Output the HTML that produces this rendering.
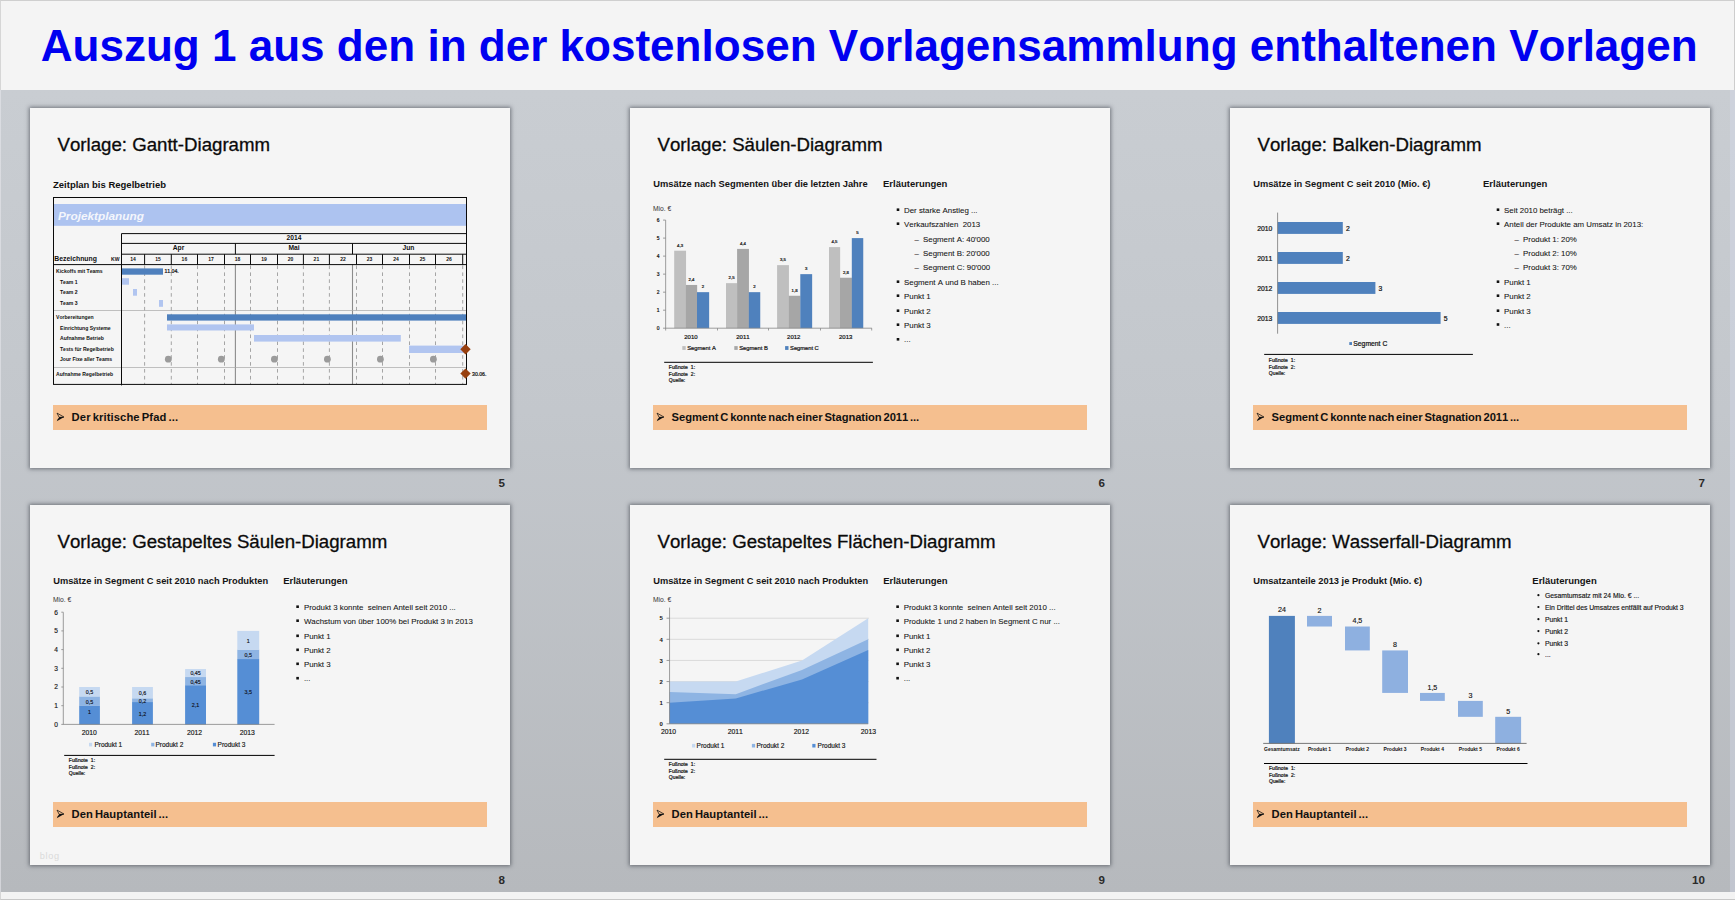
<!DOCTYPE html>
<html><head><meta charset="utf-8"><title>Vorlagen</title>
<style>
html,body{margin:0;padding:0}
body{width:1735px;height:900px;overflow:hidden;position:relative;background:#f4f4f4;font-family:"Liberation Sans",sans-serif}
#hdr{position:absolute;left:0;top:0;width:1735px;height:90px;background:#f4f4f4;box-sizing:border-box;border-top:1px solid #cfcfcf;border-left:1px solid #d6d6d6;border-right:1px solid #cdcdcd}
#hdr div{position:absolute;left:39.7px;top:20.3px;font-size:44.05px;font-kerning:none;font-weight:bold;color:#0000f0;white-space:nowrap;line-height:50px;letter-spacing:0}
#bg{position:absolute;left:0;top:90px;width:1735px;height:803px;background:linear-gradient(to bottom,#c9cdd2 0%,#c3c7cc 40%,#b6b9bd 100%)}
#bot{position:absolute;left:0;top:892px;width:1735px;height:8px;background:#f3f3f3;box-sizing:border-box;border-bottom:1px solid #c8c8c8;border-left:1px solid #d6d6d6}
.sl{position:absolute;width:480px;height:360px;background:#f5f5f5;box-shadow:0 0 4px 1px rgba(40,45,55,.55)}
svg{position:absolute;left:0;top:0}
svg text{font-family:"Liberation Sans",sans-serif;font-kerning:none}
</style></head><body>
<div id="hdr"><div>Auszug 1 aus den in der kostenlosen Vorlagensammlung enthaltenen Vorlagen</div></div>
<div id="bg"><div style="position:absolute;right:0;top:0;width:5px;height:100%;background:rgba(215,222,240,.35)"></div><div style="position:absolute;left:0;top:0;width:1px;height:100%;background:rgba(230,230,235,.6)"></div></div><div id="bot"></div>
<div class="sl" style="left:30px;top:108px"></div><div class="sl" style="left:630px;top:108px"></div><div class="sl" style="left:1230px;top:108px"></div><div class="sl" style="left:30px;top:505px"></div><div class="sl" style="left:630px;top:505px"></div><div class="sl" style="left:1230px;top:505px"></div>
<svg width="1735" height="900" viewBox="0 0 1735 900">
<text x="57.50" y="151.30" font-size="18.67" font-weight="normal" fill="#0a0a0a" text-anchor="start"  stroke="#0a0a0a" stroke-width="0.3">Vorlage: Gantt-Diagramm</text>
<rect x="53.00" y="405.00" width="434.00" height="25.00" fill="#f5bf8f" />
<path d="M64.10 417.00 L56.80 421.30 L57.50 419.60 L59.50 416.90 Z" fill="#111"/>
<path d="M57.00 413.10 L64.00 417.05 L59.20 417.40 Z" fill="none" stroke="#111" stroke-width="0.75" stroke-linejoin="miter"/>
<text x="71.60" y="421.10" font-size="11.2" font-weight="bold" fill="#111" text-anchor="start" word-spacing="-1.2" textLength="106.40" lengthAdjust="spacing">Der kritische Pfad ...</text>
<text x="505.00" y="486.60" font-size="11.6" font-weight="bold" fill="#2a2a2a" text-anchor="end" >5</text>
<text x="53.00" y="188.20" font-size="9.5" font-weight="bold" fill="#111" text-anchor="start" >Zeitplan bis Regelbetrieb</text>
<rect x="54.00" y="204.00" width="412.50" height="21.80" fill="#adc3f0" />
<text x="58.00" y="219.80" font-size="11.8" font-weight="bold" fill="#f4f6fc" text-anchor="start" font-style="italic">Projektplanung</text>
<line x1="144.60" y1="264.60" x2="144.60" y2="384.40" stroke="#9c9c9c" stroke-width="0.9" stroke-dasharray="3.6 3.3" stroke-dashoffset="-0.9"/>
<line x1="171.30" y1="264.60" x2="171.30" y2="384.40" stroke="#9c9c9c" stroke-width="0.9" stroke-dasharray="3.6 3.3" stroke-dashoffset="-0.9"/>
<line x1="197.50" y1="264.60" x2="197.50" y2="384.40" stroke="#9c9c9c" stroke-width="0.9" stroke-dasharray="3.6 3.3" stroke-dashoffset="-0.9"/>
<line x1="224.50" y1="264.60" x2="224.50" y2="384.40" stroke="#9c9c9c" stroke-width="0.9" stroke-dasharray="3.6 3.3" stroke-dashoffset="-0.9"/>
<line x1="250.50" y1="264.60" x2="250.50" y2="384.40" stroke="#9c9c9c" stroke-width="0.9" stroke-dasharray="3.6 3.3" stroke-dashoffset="-0.9"/>
<line x1="277.50" y1="264.60" x2="277.50" y2="384.40" stroke="#9c9c9c" stroke-width="0.9" stroke-dasharray="3.6 3.3" stroke-dashoffset="-0.9"/>
<line x1="303.40" y1="264.60" x2="303.40" y2="384.40" stroke="#9c9c9c" stroke-width="0.9" stroke-dasharray="3.6 3.3" stroke-dashoffset="-0.9"/>
<line x1="329.40" y1="264.60" x2="329.40" y2="384.40" stroke="#9c9c9c" stroke-width="0.9" stroke-dasharray="3.6 3.3" stroke-dashoffset="-0.9"/>
<line x1="356.50" y1="264.60" x2="356.50" y2="384.40" stroke="#9c9c9c" stroke-width="0.9" stroke-dasharray="3.6 3.3" stroke-dashoffset="-0.9"/>
<line x1="382.50" y1="264.60" x2="382.50" y2="384.40" stroke="#9c9c9c" stroke-width="0.9" stroke-dasharray="3.6 3.3" stroke-dashoffset="-0.9"/>
<line x1="409.50" y1="264.60" x2="409.50" y2="384.40" stroke="#9c9c9c" stroke-width="0.9" stroke-dasharray="3.6 3.3" stroke-dashoffset="-0.9"/>
<line x1="435.50" y1="264.60" x2="435.50" y2="384.40" stroke="#9c9c9c" stroke-width="0.9" stroke-dasharray="3.6 3.3" stroke-dashoffset="-0.9"/>
<line x1="462.70" y1="264.60" x2="462.70" y2="384.40" stroke="#9c9c9c" stroke-width="0.9" stroke-dasharray="3.6 3.3" stroke-dashoffset="-0.9"/>
<line x1="235.40" y1="264.60" x2="235.40" y2="384.40" stroke="#8c8c8c" stroke-width="1.1" />
<line x1="352.50" y1="264.60" x2="352.50" y2="384.40" stroke="#8c8c8c" stroke-width="1.1" />
<line x1="53.50" y1="310.50" x2="466.50" y2="310.50" stroke="#a8a8a8" stroke-width="0.7" />
<line x1="53.50" y1="367.50" x2="466.50" y2="367.50" stroke="#a8a8a8" stroke-width="0.7" />
<rect x="121.80" y="268.40" width="41.20" height="6.30" fill="#4f80bd" />
<rect x="121.80" y="278.20" width="7.20" height="6.50" fill="#b1c5f0" />
<rect x="133.00" y="289.00" width="4.00" height="6.70" fill="#b1c5f0" />
<rect x="159.00" y="300.00" width="4.00" height="6.80" fill="#b1c5f0" />
<rect x="167.00" y="314.30" width="299.30" height="6.30" fill="#4f80bd" />
<rect x="167.00" y="324.40" width="87.00" height="6.10" fill="#b1c5f0" />
<rect x="254.00" y="335.00" width="146.80" height="6.60" fill="#b1c5f0" />
<rect x="409.00" y="345.60" width="55.50" height="7.40" fill="#b1c5f0" />
<circle cx="168.30" cy="359.20" r="3.4" fill="#9b9b9b"/>
<circle cx="221.30" cy="359.20" r="3.4" fill="#9b9b9b"/>
<circle cx="274.40" cy="359.20" r="3.4" fill="#9b9b9b"/>
<circle cx="327.40" cy="359.20" r="3.4" fill="#9b9b9b"/>
<circle cx="380.40" cy="359.20" r="3.4" fill="#9b9b9b"/>
<circle cx="433.40" cy="359.20" r="3.4" fill="#9b9b9b"/>
<line x1="121.50" y1="233.60" x2="466.50" y2="233.60" stroke="#0a0a0a" stroke-width="1" />
<line x1="121.50" y1="243.40" x2="466.50" y2="243.40" stroke="#0a0a0a" stroke-width="1" />
<line x1="121.50" y1="254.20" x2="466.50" y2="254.20" stroke="#0a0a0a" stroke-width="1" />
<line x1="53.50" y1="264.60" x2="466.50" y2="264.60" stroke="#0a0a0a" stroke-width="1" />
<line x1="121.50" y1="233.60" x2="121.50" y2="385.40" stroke="#0a0a0a" stroke-width="1" />
<line x1="235.40" y1="243.40" x2="235.40" y2="254.20" stroke="#0a0a0a" stroke-width="1" />
<line x1="352.50" y1="243.40" x2="352.50" y2="254.20" stroke="#0a0a0a" stroke-width="1" />
<line x1="144.60" y1="254.20" x2="144.60" y2="264.60" stroke="#0a0a0a" stroke-width="1" />
<line x1="171.30" y1="254.20" x2="171.30" y2="264.60" stroke="#0a0a0a" stroke-width="1" />
<line x1="197.50" y1="254.20" x2="197.50" y2="264.60" stroke="#0a0a0a" stroke-width="1" />
<line x1="224.50" y1="254.20" x2="224.50" y2="264.60" stroke="#0a0a0a" stroke-width="1" />
<line x1="250.50" y1="254.20" x2="250.50" y2="264.60" stroke="#0a0a0a" stroke-width="1" />
<line x1="277.50" y1="254.20" x2="277.50" y2="264.60" stroke="#0a0a0a" stroke-width="1" />
<line x1="303.40" y1="254.20" x2="303.40" y2="264.60" stroke="#0a0a0a" stroke-width="1" />
<line x1="329.40" y1="254.20" x2="329.40" y2="264.60" stroke="#0a0a0a" stroke-width="1" />
<line x1="356.50" y1="254.20" x2="356.50" y2="264.60" stroke="#0a0a0a" stroke-width="1" />
<line x1="382.50" y1="254.20" x2="382.50" y2="264.60" stroke="#0a0a0a" stroke-width="1" />
<line x1="409.50" y1="254.20" x2="409.50" y2="264.60" stroke="#0a0a0a" stroke-width="1" />
<line x1="435.50" y1="254.20" x2="435.50" y2="264.60" stroke="#0a0a0a" stroke-width="1" />
<line x1="462.70" y1="254.20" x2="462.70" y2="264.60" stroke="#0a0a0a" stroke-width="1" />
<rect x="53.50" y="197.50" width="413.00" height="186.90" fill="none" stroke="#0a0a0a" stroke-width="1"/>
<path d="M460.30 349.20 L465.50 344.00 L470.70 349.20 L465.50 354.40 Z" fill="#98400f"/>
<path d="M460.30 373.60 L465.50 368.40 L470.70 373.60 L465.50 378.80 Z" fill="#98400f"/>
<text x="294.00" y="240.10" font-size="6.7" font-weight="bold" fill="#111" text-anchor="middle" >2014</text>
<text x="178.50" y="250.10" font-size="6.7" font-weight="bold" fill="#111" text-anchor="middle" >Apr</text>
<text x="294.00" y="250.10" font-size="6.7" font-weight="bold" fill="#111" text-anchor="middle" >Mai</text>
<text x="408.50" y="250.10" font-size="6.7" font-weight="bold" fill="#111" text-anchor="middle" >Jun</text>
<text x="54.30" y="260.80" font-size="6.85" font-weight="bold" fill="#111" text-anchor="start" >Bezeichnung</text>
<text x="111.00" y="261.30" font-size="5.1" font-weight="bold" fill="#111" text-anchor="start" >KW</text>
<text x="133.05" y="261.20" font-size="5.0" font-weight="bold" fill="#111" text-anchor="middle" >14</text>
<text x="157.95" y="261.20" font-size="5.0" font-weight="bold" fill="#111" text-anchor="middle" >15</text>
<text x="184.40" y="261.20" font-size="5.0" font-weight="bold" fill="#111" text-anchor="middle" >16</text>
<text x="211.00" y="261.20" font-size="5.0" font-weight="bold" fill="#111" text-anchor="middle" >17</text>
<text x="237.50" y="261.20" font-size="5.0" font-weight="bold" fill="#111" text-anchor="middle" >18</text>
<text x="264.00" y="261.20" font-size="5.0" font-weight="bold" fill="#111" text-anchor="middle" >19</text>
<text x="290.45" y="261.20" font-size="5.0" font-weight="bold" fill="#111" text-anchor="middle" >20</text>
<text x="316.40" y="261.20" font-size="5.0" font-weight="bold" fill="#111" text-anchor="middle" >21</text>
<text x="342.95" y="261.20" font-size="5.0" font-weight="bold" fill="#111" text-anchor="middle" >22</text>
<text x="369.50" y="261.20" font-size="5.0" font-weight="bold" fill="#111" text-anchor="middle" >23</text>
<text x="396.00" y="261.20" font-size="5.0" font-weight="bold" fill="#111" text-anchor="middle" >24</text>
<text x="422.50" y="261.20" font-size="5.0" font-weight="bold" fill="#111" text-anchor="middle" >25</text>
<text x="449.10" y="261.20" font-size="5.0" font-weight="bold" fill="#111" text-anchor="middle" >26</text>
<text x="56.00" y="272.80" font-size="5.1" font-weight="bold" fill="#111" text-anchor="start" >Kickoffs mit Teams</text>
<text x="60.00" y="283.70" font-size="5.1" font-weight="bold" fill="#111" text-anchor="start" >Team 1</text>
<text x="60.00" y="293.70" font-size="5.1" font-weight="bold" fill="#111" text-anchor="start" >Team 2</text>
<text x="60.00" y="304.70" font-size="5.1" font-weight="bold" fill="#111" text-anchor="start" >Team 3</text>
<text x="56.00" y="319.10" font-size="5.1" font-weight="bold" fill="#111" text-anchor="start" >Vorbereitungen</text>
<text x="60.00" y="329.70" font-size="5.1" font-weight="bold" fill="#111" text-anchor="start" >Einrichtung Systeme</text>
<text x="60.00" y="339.80" font-size="5.1" font-weight="bold" fill="#111" text-anchor="start" >Aufnahme Betrieb</text>
<text x="60.00" y="350.80" font-size="5.1" font-weight="bold" fill="#111" text-anchor="start" >Tests für Regelbetrieb</text>
<text x="60.00" y="360.90" font-size="5.1" font-weight="bold" fill="#111" text-anchor="start" >Jour Fixe aller Teams</text>
<text x="56.00" y="375.60" font-size="5.1" font-weight="bold" fill="#111" text-anchor="start" >Aufnahme Regelbetrieb</text>
<text x="164.40" y="273.20" font-size="5.2" font-weight="normal" fill="#111" text-anchor="start"  stroke="#111" stroke-width="0.22">11.04.</text>
<text x="472.00" y="376.00" font-size="5.2" font-weight="normal" fill="#111" text-anchor="start"  stroke="#111" stroke-width="0.22">30.06.</text>
<text x="657.50" y="151.30" font-size="18.67" font-weight="normal" fill="#0a0a0a" text-anchor="start"  stroke="#0a0a0a" stroke-width="0.3">Vorlage: Säulen-Diagramm</text>
<rect x="653.00" y="405.00" width="434.00" height="25.00" fill="#f5bf8f" />
<path d="M664.10 417.00 L656.80 421.30 L657.50 419.60 L659.50 416.90 Z" fill="#111"/>
<path d="M657.00 413.10 L664.00 417.05 L659.20 417.40 Z" fill="none" stroke="#111" stroke-width="0.75" stroke-linejoin="miter"/>
<text x="671.60" y="421.10" font-size="11.2" font-weight="bold" fill="#111" text-anchor="start" word-spacing="-1.2" textLength="247.60" lengthAdjust="spacing">Segment C konnte nach einer Stagnation 2011 ...</text>
<text x="1105.00" y="486.60" font-size="11.6" font-weight="bold" fill="#2a2a2a" text-anchor="end" >6</text>
<text x="653.20" y="187.00" font-size="9.35" font-weight="bold" fill="#141414" text-anchor="start" >Umsätze nach Segmenten über die letzten Jahre</text>
<text x="883.00" y="187.00" font-size="9.5" font-weight="bold" fill="#141414" text-anchor="start" >Erläuterungen</text>
<text x="653.00" y="210.90" font-size="6.7" font-weight="normal" fill="#333" text-anchor="start" >Mio. €</text>
<rect x="674.20" y="250.71" width="11.85" height="77.49" fill="#bfbfbf" />
<text x="680.05" y="246.91" font-size="4.3" font-weight="normal" fill="#141414" text-anchor="middle"  stroke="#141414" stroke-width="0.22">4,3</text>
<rect x="685.90" y="284.95" width="11.25" height="43.25" fill="#a6a6a6" />
<text x="691.45" y="281.15" font-size="4.3" font-weight="normal" fill="#141414" text-anchor="middle"  stroke="#141414" stroke-width="0.22">2,4</text>
<rect x="697.00" y="292.16" width="12.15" height="36.04" fill="#4f81bd" />
<text x="703.00" y="288.36" font-size="4.3" font-weight="normal" fill="#141414" text-anchor="middle"  stroke="#141414" stroke-width="0.22">2</text>
<rect x="726.00" y="283.15" width="11.25" height="45.05" fill="#bfbfbf" />
<text x="731.55" y="279.35" font-size="4.3" font-weight="normal" fill="#141414" text-anchor="middle"  stroke="#141414" stroke-width="0.22">2,5</text>
<rect x="737.10" y="248.91" width="11.85" height="79.29" fill="#a6a6a6" />
<text x="742.95" y="245.11" font-size="4.3" font-weight="normal" fill="#141414" text-anchor="middle"  stroke="#141414" stroke-width="0.22">4,4</text>
<rect x="748.80" y="292.16" width="11.45" height="36.04" fill="#4f81bd" />
<text x="754.45" y="288.36" font-size="4.3" font-weight="normal" fill="#141414" text-anchor="middle"  stroke="#141414" stroke-width="0.22">2</text>
<rect x="777.10" y="265.13" width="11.85" height="63.07" fill="#bfbfbf" />
<text x="782.95" y="261.33" font-size="4.3" font-weight="normal" fill="#141414" text-anchor="middle"  stroke="#141414" stroke-width="0.22">3,5</text>
<rect x="788.80" y="295.76" width="11.65" height="32.44" fill="#a6a6a6" />
<text x="794.55" y="291.96" font-size="4.3" font-weight="normal" fill="#141414" text-anchor="middle"  stroke="#141414" stroke-width="0.22">1,8</text>
<rect x="800.30" y="274.14" width="11.85" height="54.06" fill="#4f81bd" />
<text x="806.15" y="270.34" font-size="4.3" font-weight="normal" fill="#141414" text-anchor="middle"  stroke="#141414" stroke-width="0.22">3</text>
<rect x="829.00" y="247.11" width="11.15" height="81.09" fill="#bfbfbf" />
<text x="834.50" y="243.31" font-size="4.3" font-weight="normal" fill="#141414" text-anchor="middle"  stroke="#141414" stroke-width="0.22">4,5</text>
<rect x="840.00" y="277.74" width="11.95" height="50.46" fill="#a6a6a6" />
<text x="845.90" y="273.94" font-size="4.3" font-weight="normal" fill="#141414" text-anchor="middle"  stroke="#141414" stroke-width="0.22">2,8</text>
<rect x="851.80" y="238.10" width="11.45" height="90.10" fill="#4f81bd" />
<text x="857.45" y="234.30" font-size="4.3" font-weight="normal" fill="#141414" text-anchor="middle"  stroke="#141414" stroke-width="0.22">5</text>
<line x1="665.65" y1="220.10" x2="665.65" y2="330.50" stroke="#858585" stroke-width="0.8" />
<line x1="663.05" y1="328.20" x2="871.90" y2="328.20" stroke="#858585" stroke-width="0.8" />
<text x="658.00" y="329.95" font-size="4.9" font-weight="normal" fill="#141414" text-anchor="middle"  stroke="#141414" stroke-width="0.22">0</text>
<line x1="663.05" y1="310.18" x2="665.65" y2="310.18" stroke="#858585" stroke-width="0.8" />
<text x="658.00" y="311.93" font-size="4.9" font-weight="normal" fill="#141414" text-anchor="middle"  stroke="#141414" stroke-width="0.22">1</text>
<line x1="663.05" y1="292.16" x2="665.65" y2="292.16" stroke="#858585" stroke-width="0.8" />
<text x="658.00" y="293.91" font-size="4.9" font-weight="normal" fill="#141414" text-anchor="middle"  stroke="#141414" stroke-width="0.22">2</text>
<line x1="663.05" y1="274.14" x2="665.65" y2="274.14" stroke="#858585" stroke-width="0.8" />
<text x="658.00" y="275.89" font-size="4.9" font-weight="normal" fill="#141414" text-anchor="middle"  stroke="#141414" stroke-width="0.22">3</text>
<line x1="663.05" y1="256.12" x2="665.65" y2="256.12" stroke="#858585" stroke-width="0.8" />
<text x="658.00" y="257.87" font-size="4.9" font-weight="normal" fill="#141414" text-anchor="middle"  stroke="#141414" stroke-width="0.22">4</text>
<line x1="663.05" y1="238.10" x2="665.65" y2="238.10" stroke="#858585" stroke-width="0.8" />
<text x="658.00" y="239.85" font-size="4.9" font-weight="normal" fill="#141414" text-anchor="middle"  stroke="#141414" stroke-width="0.22">5</text>
<line x1="663.05" y1="220.08" x2="665.65" y2="220.08" stroke="#858585" stroke-width="0.8" />
<text x="658.00" y="221.83" font-size="4.9" font-weight="normal" fill="#141414" text-anchor="middle"  stroke="#141414" stroke-width="0.22">6</text>
<line x1="717.50" y1="328.20" x2="717.50" y2="330.50" stroke="#858585" stroke-width="0.8" />
<line x1="768.50" y1="328.20" x2="768.50" y2="330.50" stroke="#858585" stroke-width="0.8" />
<line x1="820.50" y1="328.20" x2="820.50" y2="330.50" stroke="#858585" stroke-width="0.8" />
<line x1="871.70" y1="328.20" x2="871.70" y2="330.50" stroke="#858585" stroke-width="0.8" />
<text x="690.90" y="339.10" font-size="6.0" font-weight="normal" fill="#141414" text-anchor="middle"  stroke="#141414" stroke-width="0.22">2010</text>
<text x="742.90" y="339.10" font-size="6.0" font-weight="normal" fill="#141414" text-anchor="middle"  stroke="#141414" stroke-width="0.22">2011</text>
<text x="793.80" y="339.10" font-size="6.0" font-weight="normal" fill="#141414" text-anchor="middle"  stroke="#141414" stroke-width="0.22">2012</text>
<text x="845.70" y="339.10" font-size="6.0" font-weight="normal" fill="#141414" text-anchor="middle"  stroke="#141414" stroke-width="0.22">2013</text>
<rect x="682.30" y="346.10" width="3.40" height="3.80" fill="#bfbfbf" />
<text x="687.20" y="349.90" font-size="5.8" font-weight="normal" fill="#141414" text-anchor="start"  stroke="#141414" stroke-width="0.22" textLength="28.60" lengthAdjust="spacing">Segment A</text>
<rect x="734.30" y="346.10" width="3.40" height="3.80" fill="#a6a6a6" />
<text x="739.20" y="349.90" font-size="5.8" font-weight="normal" fill="#141414" text-anchor="start"  stroke="#141414" stroke-width="0.22" textLength="28.60" lengthAdjust="spacing">Segment B</text>
<rect x="785.10" y="346.10" width="3.40" height="3.80" fill="#4f81bd" />
<text x="790.10" y="349.90" font-size="5.8" font-weight="normal" fill="#141414" text-anchor="start"  stroke="#141414" stroke-width="0.22" textLength="28.60" lengthAdjust="spacing">Segment C</text>
<line x1="664.20" y1="362.30" x2="872.90" y2="362.30" stroke="#000" stroke-width="1.0" />
<text x="668.80" y="369.00" font-size="5.0" font-weight="normal" fill="#141414" text-anchor="start"  stroke="#141414" stroke-width="0.22" textLength="26.30" lengthAdjust="spacing" xml:space="preserve">Fußnote  1:</text>
<text x="668.80" y="376.00" font-size="5.0" font-weight="normal" fill="#141414" text-anchor="start"  stroke="#141414" stroke-width="0.22" textLength="26.30" lengthAdjust="spacing" xml:space="preserve">Fußnote  2:</text>
<text x="668.80" y="381.70" font-size="5.0" font-weight="normal" fill="#141414" text-anchor="start"  stroke="#141414" stroke-width="0.22" textLength="16.40" lengthAdjust="spacing">Quelle:</text>
<rect x="896.70" y="208.40" width="2.60" height="2.60" fill="#111" />
<text x="904.00" y="212.84" font-size="7.88" font-weight="normal" fill="#141414" text-anchor="start"  stroke="#141414" stroke-width="0.07">Der starke Anstieg ...</text>
<rect x="896.70" y="222.40" width="2.60" height="2.60" fill="#111" />
<text x="904.00" y="226.84" font-size="7.88" font-weight="normal" fill="#141414" text-anchor="start"  stroke="#141414" stroke-width="0.07" xml:space="preserve">Verkaufszahlen  2013</text>
<text x="914.40" y="242.04" font-size="7.88" font-weight="normal" fill="#141414" text-anchor="start"  stroke="#141414" stroke-width="0.07">–</text>
<text x="923.00" y="242.04" font-size="7.88" font-weight="normal" fill="#141414" text-anchor="start"  stroke="#141414" stroke-width="0.07">Segment A: 40'000</text>
<text x="914.40" y="255.84" font-size="7.88" font-weight="normal" fill="#141414" text-anchor="start"  stroke="#141414" stroke-width="0.07">–</text>
<text x="923.00" y="255.84" font-size="7.88" font-weight="normal" fill="#141414" text-anchor="start"  stroke="#141414" stroke-width="0.07">Segment B: 20'000</text>
<text x="914.40" y="270.04" font-size="7.88" font-weight="normal" fill="#141414" text-anchor="start"  stroke="#141414" stroke-width="0.07">–</text>
<text x="923.00" y="270.04" font-size="7.88" font-weight="normal" fill="#141414" text-anchor="start"  stroke="#141414" stroke-width="0.07">Segment C: 90'000</text>
<rect x="896.70" y="280.40" width="2.60" height="2.60" fill="#111" />
<text x="904.00" y="284.84" font-size="7.88" font-weight="normal" fill="#141414" text-anchor="start"  stroke="#141414" stroke-width="0.07">Segment A und B haben ...</text>
<rect x="896.70" y="294.40" width="2.60" height="2.60" fill="#111" />
<text x="904.00" y="298.84" font-size="7.88" font-weight="normal" fill="#141414" text-anchor="start"  stroke="#141414" stroke-width="0.07">Punkt 1</text>
<rect x="896.70" y="309.40" width="2.60" height="2.60" fill="#111" />
<text x="904.00" y="313.84" font-size="7.88" font-weight="normal" fill="#141414" text-anchor="start"  stroke="#141414" stroke-width="0.07">Punkt 2</text>
<rect x="896.70" y="323.40" width="2.60" height="2.60" fill="#111" />
<text x="904.00" y="327.84" font-size="7.88" font-weight="normal" fill="#141414" text-anchor="start"  stroke="#141414" stroke-width="0.07">Punkt 3</text>
<rect x="896.70" y="338.00" width="2.60" height="2.60" fill="#111" />
<text x="904.00" y="342.44" font-size="7.88" font-weight="normal" fill="#141414" text-anchor="start"  stroke="#141414" stroke-width="0.07">...</text>
<text x="1257.50" y="151.30" font-size="18.67" font-weight="normal" fill="#0a0a0a" text-anchor="start"  stroke="#0a0a0a" stroke-width="0.3">Vorlage: Balken-Diagramm</text>
<rect x="1253.00" y="405.00" width="434.00" height="25.00" fill="#f5bf8f" />
<path d="M1264.10 417.00 L1256.80 421.30 L1257.50 419.60 L1259.50 416.90 Z" fill="#111"/>
<path d="M1257.00 413.10 L1264.00 417.05 L1259.20 417.40 Z" fill="none" stroke="#111" stroke-width="0.75" stroke-linejoin="miter"/>
<text x="1271.60" y="421.10" font-size="11.2" font-weight="bold" fill="#111" text-anchor="start" word-spacing="-1.2" textLength="247.60" lengthAdjust="spacing">Segment C konnte nach einer Stagnation 2011 ...</text>
<text x="1705.00" y="486.60" font-size="11.6" font-weight="bold" fill="#2a2a2a" text-anchor="end" >7</text>
<text x="1253.20" y="187.00" font-size="9.3" font-weight="bold" fill="#141414" text-anchor="start" >Umsätze in Segment C seit 2010 (Mio. €)</text>
<text x="1483.00" y="187.00" font-size="9.5" font-weight="bold" fill="#141414" text-anchor="start" >Erläuterungen</text>
<rect x="1277.60" y="222.00" width="65.20" height="11.90" fill="#4f81bd" />
<text x="1272.30" y="230.90" font-size="6.8" font-weight="normal" fill="#141414" text-anchor="end"  stroke="#141414" stroke-width="0.22">2010</text>
<text x="1346.00" y="230.90" font-size="6.8" font-weight="normal" fill="#141414" text-anchor="start"  stroke="#141414" stroke-width="0.22">2</text>
<rect x="1277.60" y="252.00" width="65.20" height="11.90" fill="#4f81bd" />
<text x="1272.30" y="260.90" font-size="6.8" font-weight="normal" fill="#141414" text-anchor="end"  stroke="#141414" stroke-width="0.22">2011</text>
<text x="1346.00" y="260.90" font-size="6.8" font-weight="normal" fill="#141414" text-anchor="start"  stroke="#141414" stroke-width="0.22">2</text>
<rect x="1277.60" y="282.00" width="97.80" height="11.90" fill="#4f81bd" />
<text x="1272.30" y="290.90" font-size="6.8" font-weight="normal" fill="#141414" text-anchor="end"  stroke="#141414" stroke-width="0.22">2012</text>
<text x="1378.60" y="290.90" font-size="6.8" font-weight="normal" fill="#141414" text-anchor="start"  stroke="#141414" stroke-width="0.22">3</text>
<rect x="1277.60" y="312.00" width="163.00" height="11.90" fill="#4f81bd" />
<text x="1272.30" y="320.90" font-size="6.8" font-weight="normal" fill="#141414" text-anchor="end"  stroke="#141414" stroke-width="0.22">2013</text>
<text x="1443.80" y="320.90" font-size="6.8" font-weight="normal" fill="#141414" text-anchor="start"  stroke="#141414" stroke-width="0.22">5</text>
<line x1="1277.60" y1="212.60" x2="1277.60" y2="333.70" stroke="#777" stroke-width="0.8" />
<rect x="1349.30" y="342.10" width="2.70" height="2.90" fill="#4f81bd" />
<text x="1353.30" y="346.00" font-size="6.8" font-weight="normal" fill="#141414" text-anchor="start"  stroke="#141414" stroke-width="0.22">Segment C</text>
<line x1="1264.20" y1="354.40" x2="1472.90" y2="354.40" stroke="#000" stroke-width="1.0" />
<text x="1268.80" y="362.00" font-size="5.0" font-weight="normal" fill="#141414" text-anchor="start"  stroke="#141414" stroke-width="0.22" textLength="26.30" lengthAdjust="spacing" xml:space="preserve">Fußnote  1:</text>
<text x="1268.80" y="368.90" font-size="5.0" font-weight="normal" fill="#141414" text-anchor="start"  stroke="#141414" stroke-width="0.22" textLength="26.30" lengthAdjust="spacing" xml:space="preserve">Fußnote  2:</text>
<text x="1268.80" y="375.00" font-size="5.0" font-weight="normal" fill="#141414" text-anchor="start"  stroke="#141414" stroke-width="0.22" textLength="16.40" lengthAdjust="spacing">Quelle:</text>
<rect x="1496.70" y="208.40" width="2.60" height="2.60" fill="#111" />
<text x="1504.00" y="212.84" font-size="7.88" font-weight="normal" fill="#141414" text-anchor="start"  stroke="#141414" stroke-width="0.07">Seit 2010 beträgt ...</text>
<rect x="1496.70" y="222.40" width="2.60" height="2.60" fill="#111" />
<text x="1504.00" y="226.84" font-size="7.88" font-weight="normal" fill="#141414" text-anchor="start"  stroke="#141414" stroke-width="0.07">Anteil der Produkte am Umsatz in 2013:</text>
<text x="1514.40" y="242.04" font-size="7.88" font-weight="normal" fill="#141414" text-anchor="start"  stroke="#141414" stroke-width="0.07">–</text>
<text x="1523.00" y="242.04" font-size="7.88" font-weight="normal" fill="#141414" text-anchor="start"  stroke="#141414" stroke-width="0.07">Produkt 1: 20%</text>
<text x="1514.40" y="255.84" font-size="7.88" font-weight="normal" fill="#141414" text-anchor="start"  stroke="#141414" stroke-width="0.07">–</text>
<text x="1523.00" y="255.84" font-size="7.88" font-weight="normal" fill="#141414" text-anchor="start"  stroke="#141414" stroke-width="0.07">Produkt 2: 10%</text>
<text x="1514.40" y="270.04" font-size="7.88" font-weight="normal" fill="#141414" text-anchor="start"  stroke="#141414" stroke-width="0.07">–</text>
<text x="1523.00" y="270.04" font-size="7.88" font-weight="normal" fill="#141414" text-anchor="start"  stroke="#141414" stroke-width="0.07">Produkt 3: 70%</text>
<rect x="1496.70" y="280.40" width="2.60" height="2.60" fill="#111" />
<text x="1504.00" y="284.84" font-size="7.88" font-weight="normal" fill="#141414" text-anchor="start"  stroke="#141414" stroke-width="0.07">Punkt 1</text>
<rect x="1496.70" y="294.40" width="2.60" height="2.60" fill="#111" />
<text x="1504.00" y="298.84" font-size="7.88" font-weight="normal" fill="#141414" text-anchor="start"  stroke="#141414" stroke-width="0.07">Punkt 2</text>
<rect x="1496.70" y="309.40" width="2.60" height="2.60" fill="#111" />
<text x="1504.00" y="313.84" font-size="7.88" font-weight="normal" fill="#141414" text-anchor="start"  stroke="#141414" stroke-width="0.07">Punkt 3</text>
<rect x="1496.70" y="323.20" width="2.60" height="2.60" fill="#111" />
<text x="1504.00" y="327.64" font-size="7.88" font-weight="normal" fill="#141414" text-anchor="start"  stroke="#141414" stroke-width="0.07">...</text>
<text x="57.50" y="548.30" font-size="18.67" font-weight="normal" fill="#0a0a0a" text-anchor="start"  stroke="#0a0a0a" stroke-width="0.3">Vorlage: Gestapeltes Säulen-Diagramm</text>
<rect x="53.00" y="802.00" width="434.00" height="25.00" fill="#f5bf8f" />
<path d="M64.10 814.00 L56.80 818.30 L57.50 816.60 L59.50 813.90 Z" fill="#111"/>
<path d="M57.00 810.10 L64.00 814.05 L59.20 814.40 Z" fill="none" stroke="#111" stroke-width="0.75" stroke-linejoin="miter"/>
<text x="71.60" y="818.10" font-size="11.2" font-weight="bold" fill="#111" text-anchor="start" word-spacing="-1.2" textLength="96.40" lengthAdjust="spacing">Den Hauptanteil ...</text>
<text x="505.00" y="883.60" font-size="11.6" font-weight="bold" fill="#2a2a2a" text-anchor="end" >8</text>
<text x="53.20" y="584.00" font-size="9.3" font-weight="bold" fill="#141414" text-anchor="start" >Umsätze in Segment C seit 2010 nach Produkten</text>
<text x="283.20" y="584.00" font-size="9.5" font-weight="bold" fill="#141414" text-anchor="start" >Erläuterungen</text>
<text x="53.00" y="601.80" font-size="6.7" font-weight="normal" fill="#333" text-anchor="start" >Mio. €</text>
<rect x="79.20" y="705.70" width="20.70" height="18.90" fill="#558ed5" />
<text x="89.55" y="713.55" font-size="5.3" font-weight="normal" fill="#10101a" text-anchor="middle"  stroke="#10101a" stroke-width="0.15">1</text>
<rect x="79.20" y="696.35" width="20.70" height="9.55" fill="#8eb4e3" />
<text x="89.55" y="703.52" font-size="5.3" font-weight="normal" fill="#10101a" text-anchor="middle"  stroke="#10101a" stroke-width="0.15">0,5</text>
<rect x="79.20" y="687.00" width="20.70" height="9.55" fill="#c6d9f1" />
<text x="89.55" y="694.17" font-size="5.3" font-weight="normal" fill="#10101a" text-anchor="middle"  stroke="#10101a" stroke-width="0.15">0,5</text>
<rect x="132.10" y="701.96" width="20.80" height="22.64" fill="#558ed5" />
<text x="142.50" y="715.68" font-size="5.3" font-weight="normal" fill="#10101a" text-anchor="middle"  stroke="#10101a" stroke-width="0.15">1,2</text>
<rect x="132.10" y="698.22" width="20.80" height="3.94" fill="#8eb4e3" />
<text x="142.50" y="702.59" font-size="5.3" font-weight="normal" fill="#10101a" text-anchor="middle"  stroke="#10101a" stroke-width="0.15">0,2</text>
<rect x="132.10" y="687.00" width="20.80" height="11.42" fill="#c6d9f1" />
<text x="142.50" y="695.11" font-size="5.3" font-weight="normal" fill="#10101a" text-anchor="middle"  stroke="#10101a" stroke-width="0.15">0,6</text>
<rect x="185.10" y="685.13" width="20.90" height="39.47" fill="#558ed5" />
<text x="195.55" y="707.26" font-size="5.3" font-weight="normal" fill="#10101a" text-anchor="middle"  stroke="#10101a" stroke-width="0.15">2,1</text>
<rect x="185.10" y="676.90" width="20.90" height="8.43" fill="#8eb4e3" />
<text x="195.55" y="683.52" font-size="5.3" font-weight="normal" fill="#10101a" text-anchor="middle"  stroke="#10101a" stroke-width="0.15">0,45</text>
<rect x="185.10" y="669.05" width="20.90" height="8.05" fill="#c6d9f1" />
<text x="195.55" y="675.48" font-size="5.3" font-weight="normal" fill="#10101a" text-anchor="middle"  stroke="#10101a" stroke-width="0.15">0,45</text>
<rect x="237.30" y="658.95" width="21.90" height="65.65" fill="#558ed5" />
<text x="248.25" y="694.17" font-size="5.3" font-weight="normal" fill="#10101a" text-anchor="middle"  stroke="#10101a" stroke-width="0.15">3,5</text>
<rect x="237.30" y="649.60" width="21.90" height="9.55" fill="#8eb4e3" />
<text x="248.25" y="656.77" font-size="5.3" font-weight="normal" fill="#10101a" text-anchor="middle"  stroke="#10101a" stroke-width="0.15">0,5</text>
<rect x="237.30" y="630.90" width="21.90" height="18.90" fill="#c6d9f1" />
<text x="248.25" y="642.75" font-size="5.3" font-weight="normal" fill="#10101a" text-anchor="middle"  stroke="#10101a" stroke-width="0.15">1</text>
<line x1="63.30" y1="612.30" x2="63.30" y2="724.40" stroke="#858585" stroke-width="0.8" />
<line x1="61.30" y1="724.40" x2="274.60" y2="724.40" stroke="#858585" stroke-width="0.8" />
<text x="56.00" y="726.80" font-size="6.6" font-weight="normal" fill="#141414" text-anchor="middle"  stroke="#141414" stroke-width="0.15">0</text>
<line x1="61.30" y1="705.70" x2="63.30" y2="705.70" stroke="#858585" stroke-width="0.8" />
<text x="56.00" y="708.10" font-size="6.6" font-weight="normal" fill="#141414" text-anchor="middle"  stroke="#141414" stroke-width="0.15">1</text>
<line x1="61.30" y1="687.00" x2="63.30" y2="687.00" stroke="#858585" stroke-width="0.8" />
<text x="56.00" y="689.40" font-size="6.6" font-weight="normal" fill="#141414" text-anchor="middle"  stroke="#141414" stroke-width="0.15">2</text>
<line x1="61.30" y1="668.30" x2="63.30" y2="668.30" stroke="#858585" stroke-width="0.8" />
<text x="56.00" y="670.70" font-size="6.6" font-weight="normal" fill="#141414" text-anchor="middle"  stroke="#141414" stroke-width="0.15">3</text>
<line x1="61.30" y1="649.60" x2="63.30" y2="649.60" stroke="#858585" stroke-width="0.8" />
<text x="56.00" y="652.00" font-size="6.6" font-weight="normal" fill="#141414" text-anchor="middle"  stroke="#141414" stroke-width="0.15">4</text>
<line x1="61.30" y1="630.90" x2="63.30" y2="630.90" stroke="#858585" stroke-width="0.8" />
<text x="56.00" y="633.30" font-size="6.6" font-weight="normal" fill="#141414" text-anchor="middle"  stroke="#141414" stroke-width="0.15">5</text>
<line x1="61.30" y1="612.20" x2="63.30" y2="612.20" stroke="#858585" stroke-width="0.8" />
<text x="56.00" y="614.60" font-size="6.6" font-weight="normal" fill="#141414" text-anchor="middle"  stroke="#141414" stroke-width="0.15">6</text>
<text x="89.30" y="735.20" font-size="6.8" font-weight="normal" fill="#141414" text-anchor="middle"  stroke="#141414" stroke-width="0.15">2010</text>
<text x="142.00" y="735.20" font-size="6.8" font-weight="normal" fill="#141414" text-anchor="middle"  stroke="#141414" stroke-width="0.15">2011</text>
<text x="194.50" y="735.20" font-size="6.8" font-weight="normal" fill="#141414" text-anchor="middle"  stroke="#141414" stroke-width="0.15">2012</text>
<text x="247.20" y="735.20" font-size="6.8" font-weight="normal" fill="#141414" text-anchor="middle"  stroke="#141414" stroke-width="0.15">2013</text>
<rect x="89.00" y="742.80" width="3.20" height="3.60" fill="#c6d9f1" />
<text x="94.40" y="747.00" font-size="6.5" font-weight="normal" fill="#141414" text-anchor="start"  stroke="#141414" stroke-width="0.15">Produkt 1</text>
<rect x="151.20" y="742.80" width="3.20" height="3.60" fill="#8eb4e3" />
<text x="155.50" y="747.00" font-size="6.5" font-weight="normal" fill="#141414" text-anchor="start"  stroke="#141414" stroke-width="0.15">Produkt 2</text>
<rect x="212.90" y="742.80" width="3.20" height="3.60" fill="#558ed5" />
<text x="217.60" y="747.00" font-size="6.5" font-weight="normal" fill="#141414" text-anchor="start"  stroke="#141414" stroke-width="0.15">Produkt 3</text>
<text x="39.80" y="858.60" font-size="9.2" font-weight="normal" fill="#dadada" text-anchor="start"  textLength="19.20" lengthAdjust="spacing">blog</text>
<line x1="64.20" y1="755.40" x2="274.60" y2="755.40" stroke="#000" stroke-width="1.0" />
<text x="68.80" y="762.00" font-size="5.0" font-weight="normal" fill="#141414" text-anchor="start"  stroke="#141414" stroke-width="0.22" textLength="26.30" lengthAdjust="spacing" xml:space="preserve">Fußnote  1:</text>
<text x="68.80" y="768.90" font-size="5.0" font-weight="normal" fill="#141414" text-anchor="start"  stroke="#141414" stroke-width="0.22" textLength="26.30" lengthAdjust="spacing" xml:space="preserve">Fußnote  2:</text>
<text x="68.80" y="775.00" font-size="5.0" font-weight="normal" fill="#141414" text-anchor="start"  stroke="#141414" stroke-width="0.22" textLength="16.40" lengthAdjust="spacing">Quelle:</text>
<rect x="296.30" y="605.40" width="2.60" height="2.60" fill="#111" />
<text x="303.90" y="609.84" font-size="7.88" font-weight="normal" fill="#141414" text-anchor="start"  stroke="#141414" stroke-width="0.07" xml:space="preserve">Produkt 3 konnte  seinen Anteil seit 2010 ...</text>
<rect x="296.30" y="619.40" width="2.60" height="2.60" fill="#111" />
<text x="303.90" y="623.84" font-size="7.88" font-weight="normal" fill="#141414" text-anchor="start"  stroke="#141414" stroke-width="0.07">Wachstum von über 100% bei Produkt 3 in 2013</text>
<rect x="296.30" y="634.50" width="2.60" height="2.60" fill="#111" />
<text x="303.90" y="638.94" font-size="7.88" font-weight="normal" fill="#141414" text-anchor="start"  stroke="#141414" stroke-width="0.07">Punkt 1</text>
<rect x="296.30" y="648.50" width="2.60" height="2.60" fill="#111" />
<text x="303.90" y="652.94" font-size="7.88" font-weight="normal" fill="#141414" text-anchor="start"  stroke="#141414" stroke-width="0.07">Punkt 2</text>
<rect x="296.30" y="662.50" width="2.60" height="2.60" fill="#111" />
<text x="303.90" y="666.94" font-size="7.88" font-weight="normal" fill="#141414" text-anchor="start"  stroke="#141414" stroke-width="0.07">Punkt 3</text>
<rect x="296.30" y="676.90" width="2.60" height="2.60" fill="#111" />
<text x="303.90" y="681.34" font-size="7.88" font-weight="normal" fill="#141414" text-anchor="start"  stroke="#141414" stroke-width="0.07">...</text>
<text x="657.50" y="548.30" font-size="18.67" font-weight="normal" fill="#0a0a0a" text-anchor="start"  stroke="#0a0a0a" stroke-width="0.3">Vorlage: Gestapeltes Flächen-Diagramm</text>
<rect x="653.00" y="802.00" width="434.00" height="25.00" fill="#f5bf8f" />
<path d="M664.10 814.00 L656.80 818.30 L657.50 816.60 L659.50 813.90 Z" fill="#111"/>
<path d="M657.00 810.10 L664.00 814.05 L659.20 814.40 Z" fill="none" stroke="#111" stroke-width="0.75" stroke-linejoin="miter"/>
<text x="671.60" y="818.10" font-size="11.2" font-weight="bold" fill="#111" text-anchor="start" word-spacing="-1.2" textLength="96.40" lengthAdjust="spacing">Den Hauptanteil ...</text>
<text x="1105.00" y="883.60" font-size="11.6" font-weight="bold" fill="#2a2a2a" text-anchor="end" >9</text>
<text x="653.20" y="584.00" font-size="9.3" font-weight="bold" fill="#141414" text-anchor="start" >Umsätze in Segment C seit 2010 nach Produkten</text>
<text x="883.20" y="584.00" font-size="9.5" font-weight="bold" fill="#141414" text-anchor="start" >Erläuterungen</text>
<text x="653.00" y="601.80" font-size="6.7" font-weight="normal" fill="#333" text-anchor="start" >Mio. €</text>
<line x1="669.55" y1="702.68" x2="868.80" y2="702.68" stroke="#cfcfcf" stroke-width="0.7" />
<line x1="669.55" y1="681.56" x2="868.80" y2="681.56" stroke="#cfcfcf" stroke-width="0.7" />
<line x1="669.55" y1="660.44" x2="868.80" y2="660.44" stroke="#cfcfcf" stroke-width="0.7" />
<line x1="669.55" y1="639.32" x2="868.80" y2="639.32" stroke="#cfcfcf" stroke-width="0.7" />
<line x1="669.55" y1="618.20" x2="868.80" y2="618.20" stroke="#cfcfcf" stroke-width="0.7" />
<polygon points="669.55,723.80 669.55,681.56 735.77,681.56 801.98,660.44 868.20,618.20 868.20,723.80" fill="#c6d9f1"/>
<polygon points="669.55,723.80 669.55,692.12 735.77,694.23 801.98,669.94 868.20,639.32 868.20,723.80" fill="#8eb4e3"/>
<polygon points="669.55,723.80 669.55,702.68 735.77,698.46 801.98,679.45 868.20,649.88 868.20,723.80" fill="#558ed5"/>
<line x1="669.55" y1="607.60" x2="669.55" y2="723.80" stroke="#858585" stroke-width="0.8" />
<line x1="666.55" y1="723.80" x2="868.20" y2="723.80" stroke="#858585" stroke-width="0.8" />
<text x="661.20" y="726.00" font-size="6.0" font-weight="bold" fill="#141414" text-anchor="middle" >0</text>
<line x1="666.55" y1="702.68" x2="669.55" y2="702.68" stroke="#858585" stroke-width="0.8" />
<text x="661.20" y="704.88" font-size="6.0" font-weight="bold" fill="#141414" text-anchor="middle" >1</text>
<line x1="666.55" y1="681.56" x2="669.55" y2="681.56" stroke="#858585" stroke-width="0.8" />
<text x="661.20" y="683.76" font-size="6.0" font-weight="bold" fill="#141414" text-anchor="middle" >2</text>
<line x1="666.55" y1="660.44" x2="669.55" y2="660.44" stroke="#858585" stroke-width="0.8" />
<text x="661.20" y="662.64" font-size="6.0" font-weight="bold" fill="#141414" text-anchor="middle" >3</text>
<line x1="666.55" y1="639.32" x2="669.55" y2="639.32" stroke="#858585" stroke-width="0.8" />
<text x="661.20" y="641.52" font-size="6.0" font-weight="bold" fill="#141414" text-anchor="middle" >4</text>
<line x1="666.55" y1="618.20" x2="669.55" y2="618.20" stroke="#858585" stroke-width="0.8" />
<text x="661.20" y="620.40" font-size="6.0" font-weight="bold" fill="#141414" text-anchor="middle" >5</text>
<text x="668.50" y="734.10" font-size="6.8" font-weight="normal" fill="#141414" text-anchor="middle"  stroke="#141414" stroke-width="0.15">2010</text>
<text x="735.30" y="734.10" font-size="6.8" font-weight="normal" fill="#141414" text-anchor="middle"  stroke="#141414" stroke-width="0.15">2011</text>
<text x="801.40" y="734.10" font-size="6.8" font-weight="normal" fill="#141414" text-anchor="middle"  stroke="#141414" stroke-width="0.15">2012</text>
<text x="868.40" y="734.10" font-size="6.8" font-weight="normal" fill="#141414" text-anchor="middle"  stroke="#141414" stroke-width="0.15">2013</text>
<rect x="692.00" y="743.90" width="3.20" height="3.60" fill="#c6d9f1" />
<text x="696.60" y="748.10" font-size="6.5" font-weight="normal" fill="#141414" text-anchor="start"  stroke="#141414" stroke-width="0.15">Produkt 1</text>
<rect x="751.90" y="743.90" width="3.20" height="3.60" fill="#8eb4e3" />
<text x="756.50" y="748.10" font-size="6.5" font-weight="normal" fill="#141414" text-anchor="start"  stroke="#141414" stroke-width="0.15">Produkt 2</text>
<rect x="812.30" y="743.90" width="3.20" height="3.60" fill="#558ed5" />
<text x="817.60" y="748.10" font-size="6.5" font-weight="normal" fill="#141414" text-anchor="start"  stroke="#141414" stroke-width="0.15">Produkt 3</text>
<line x1="664.20" y1="759.30" x2="876.50" y2="759.30" stroke="#000" stroke-width="1.0" />
<text x="668.80" y="765.90" font-size="5.0" font-weight="normal" fill="#141414" text-anchor="start"  stroke="#141414" stroke-width="0.22" textLength="26.30" lengthAdjust="spacing" xml:space="preserve">Fußnote  1:</text>
<text x="668.80" y="772.80" font-size="5.0" font-weight="normal" fill="#141414" text-anchor="start"  stroke="#141414" stroke-width="0.22" textLength="26.30" lengthAdjust="spacing" xml:space="preserve">Fußnote  2:</text>
<text x="668.80" y="778.90" font-size="5.0" font-weight="normal" fill="#141414" text-anchor="start"  stroke="#141414" stroke-width="0.22" textLength="16.40" lengthAdjust="spacing">Quelle:</text>
<rect x="896.30" y="605.40" width="2.60" height="2.60" fill="#111" />
<text x="903.70" y="609.84" font-size="7.88" font-weight="normal" fill="#141414" text-anchor="start"  stroke="#141414" stroke-width="0.07" xml:space="preserve">Produkt 3 konnte  seinen Anteil seit 2010 ...</text>
<rect x="896.30" y="619.40" width="2.60" height="2.60" fill="#111" />
<text x="903.70" y="623.84" font-size="7.88" font-weight="normal" fill="#141414" text-anchor="start"  stroke="#141414" stroke-width="0.07">Produkte 1 und 2 haben in Segment C nur ...</text>
<rect x="896.30" y="634.50" width="2.60" height="2.60" fill="#111" />
<text x="903.70" y="638.94" font-size="7.88" font-weight="normal" fill="#141414" text-anchor="start"  stroke="#141414" stroke-width="0.07">Punkt 1</text>
<rect x="896.30" y="648.50" width="2.60" height="2.60" fill="#111" />
<text x="903.70" y="652.94" font-size="7.88" font-weight="normal" fill="#141414" text-anchor="start"  stroke="#141414" stroke-width="0.07">Punkt 2</text>
<rect x="896.30" y="662.50" width="2.60" height="2.60" fill="#111" />
<text x="903.70" y="666.94" font-size="7.88" font-weight="normal" fill="#141414" text-anchor="start"  stroke="#141414" stroke-width="0.07">Punkt 3</text>
<rect x="896.30" y="676.90" width="2.60" height="2.60" fill="#111" />
<text x="903.70" y="681.34" font-size="7.88" font-weight="normal" fill="#141414" text-anchor="start"  stroke="#141414" stroke-width="0.07">...</text>
<text x="1257.50" y="548.30" font-size="18.67" font-weight="normal" fill="#0a0a0a" text-anchor="start"  stroke="#0a0a0a" stroke-width="0.3">Vorlage: Wasserfall-Diagramm</text>
<rect x="1253.00" y="802.00" width="434.00" height="25.00" fill="#f5bf8f" />
<path d="M1264.10 814.00 L1256.80 818.30 L1257.50 816.60 L1259.50 813.90 Z" fill="#111"/>
<path d="M1257.00 810.10 L1264.00 814.05 L1259.20 814.40 Z" fill="none" stroke="#111" stroke-width="0.75" stroke-linejoin="miter"/>
<text x="1271.60" y="818.10" font-size="11.2" font-weight="bold" fill="#111" text-anchor="start" word-spacing="-1.2" textLength="96.40" lengthAdjust="spacing">Den Hauptanteil ...</text>
<text x="1705.00" y="883.60" font-size="11.6" font-weight="bold" fill="#2a2a2a" text-anchor="end" >10</text>
<text x="1253.20" y="583.90" font-size="9.3" font-weight="bold" fill="#141414" text-anchor="start" >Umsatzanteile 2013 je Produkt (Mio. €)</text>
<text x="1532.30" y="584.00" font-size="9.5" font-weight="bold" fill="#141414" text-anchor="start" >Erläuterungen</text>
<rect x="1268.90" y="615.89" width="26.00" height="127.51" fill="#4f81bd" />
<text x="1281.90" y="612.49" font-size="7.1" font-weight="normal" fill="#141414" text-anchor="middle"  stroke="#141414" stroke-width="0.15">24</text>
<text x="1281.90" y="751.10" font-size="5.0" font-weight="bold" fill="#141414" text-anchor="middle" >Gesamtumsatz</text>
<rect x="1307.00" y="615.89" width="25.00" height="10.63" fill="#8eb0e0" />
<text x="1319.50" y="612.69" font-size="7.1" font-weight="normal" fill="#141414" text-anchor="middle"  stroke="#141414" stroke-width="0.15">2</text>
<text x="1319.50" y="751.10" font-size="5.0" font-weight="bold" fill="#141414" text-anchor="middle" >Produkt 1</text>
<rect x="1345.00" y="626.51" width="24.80" height="23.91" fill="#8eb0e0" />
<text x="1357.40" y="623.31" font-size="7.1" font-weight="normal" fill="#141414" text-anchor="middle"  stroke="#141414" stroke-width="0.15">4,5</text>
<text x="1357.40" y="751.10" font-size="5.0" font-weight="bold" fill="#141414" text-anchor="middle" >Produkt 2</text>
<rect x="1382.20" y="650.42" width="25.80" height="42.50" fill="#8eb0e0" />
<text x="1395.10" y="647.22" font-size="7.1" font-weight="normal" fill="#141414" text-anchor="middle"  stroke="#141414" stroke-width="0.15">8</text>
<text x="1395.10" y="751.10" font-size="5.0" font-weight="bold" fill="#141414" text-anchor="middle" >Produkt 3</text>
<rect x="1420.00" y="692.93" width="24.80" height="7.97" fill="#8eb0e0" />
<text x="1432.40" y="689.73" font-size="7.1" font-weight="normal" fill="#141414" text-anchor="middle"  stroke="#141414" stroke-width="0.15">1,5</text>
<text x="1432.40" y="751.10" font-size="5.0" font-weight="bold" fill="#141414" text-anchor="middle" >Produkt 4</text>
<rect x="1458.00" y="700.90" width="24.80" height="15.94" fill="#8eb0e0" />
<text x="1470.40" y="697.70" font-size="7.1" font-weight="normal" fill="#141414" text-anchor="middle"  stroke="#141414" stroke-width="0.15">3</text>
<text x="1470.40" y="751.10" font-size="5.0" font-weight="bold" fill="#141414" text-anchor="middle" >Produkt 5</text>
<rect x="1495.20" y="716.83" width="25.90" height="26.56" fill="#8eb0e0" />
<text x="1508.15" y="713.63" font-size="7.1" font-weight="normal" fill="#141414" text-anchor="middle"  stroke="#141414" stroke-width="0.15">5</text>
<text x="1508.15" y="751.10" font-size="5.0" font-weight="bold" fill="#141414" text-anchor="middle" >Produkt 6</text>
<line x1="1263.20" y1="743.40" x2="1526.60" y2="743.40" stroke="#6a6a6a" stroke-width="0.9" />
<line x1="1264.00" y1="763.50" x2="1527.50" y2="763.50" stroke="#000" stroke-width="1.0" />
<text x="1268.90" y="770.00" font-size="5.0" font-weight="normal" fill="#141414" text-anchor="start"  stroke="#141414" stroke-width="0.22" textLength="26.30" lengthAdjust="spacing" xml:space="preserve">Fußnote  1:</text>
<text x="1268.90" y="776.90" font-size="5.0" font-weight="normal" fill="#141414" text-anchor="start"  stroke="#141414" stroke-width="0.22" textLength="26.30" lengthAdjust="spacing" xml:space="preserve">Fußnote  2:</text>
<text x="1268.90" y="782.80" font-size="5.0" font-weight="normal" fill="#141414" text-anchor="start"  stroke="#141414" stroke-width="0.22" textLength="16.40" lengthAdjust="spacing">Quelle:</text>
<circle cx="1538.40" cy="595.20" r="1.1" fill="#111"/>
<text x="1545.00" y="597.85" font-size="6.8" font-weight="normal" fill="#141414" text-anchor="start"  stroke="#141414" stroke-width="0.15">Gesamtumsatz mit 24 Mio. € ...</text>
<circle cx="1538.40" cy="607.00" r="1.1" fill="#111"/>
<text x="1545.00" y="609.65" font-size="6.8" font-weight="normal" fill="#141414" text-anchor="start"  stroke="#141414" stroke-width="0.15">Ein Drittel des Umsatzes entfällt auf Produkt 3</text>
<circle cx="1538.40" cy="619.20" r="1.1" fill="#111"/>
<text x="1545.00" y="621.85" font-size="6.8" font-weight="normal" fill="#141414" text-anchor="start"  stroke="#141414" stroke-width="0.15">Punkt 1</text>
<circle cx="1538.40" cy="631.10" r="1.1" fill="#111"/>
<text x="1545.00" y="633.75" font-size="6.8" font-weight="normal" fill="#141414" text-anchor="start"  stroke="#141414" stroke-width="0.15">Punkt 2</text>
<circle cx="1538.40" cy="643.30" r="1.1" fill="#111"/>
<text x="1545.00" y="645.95" font-size="6.8" font-weight="normal" fill="#141414" text-anchor="start"  stroke="#141414" stroke-width="0.15">Punkt 3</text>
<circle cx="1538.40" cy="654.20" r="1.1" fill="#111"/>
<text x="1545.00" y="656.85" font-size="6.8" font-weight="normal" fill="#141414" text-anchor="start"  stroke="#141414" stroke-width="0.15">...</text>
</svg>
</body></html>
